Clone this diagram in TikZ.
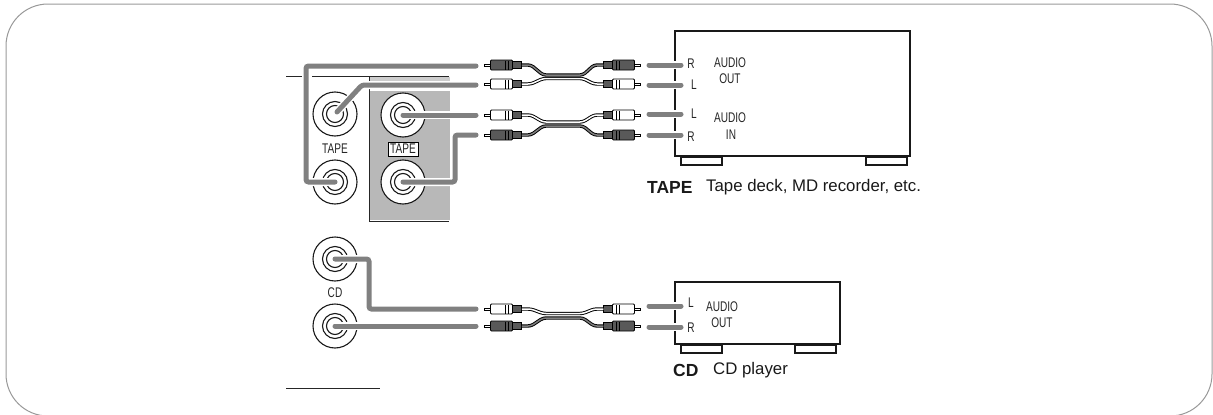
\documentclass[tikz,border=0pt]{standalone}
\usepackage{fontspec}
\setmainfont{Liberation Sans}
\usetikzlibrary{calc}
\definecolor{panelgray}{gray}{.72}
\definecolor{cablegray}{gray}{.5}
\definecolor{plugdark}{gray}{.35}
\tikzset{
  frameline/.style={draw=black!40,line width=1pt,rounded corners=42pt},
  rule/.style={line width=1pt,black!85},
  jackring/.style={circle,draw=black!90,line width=1.1pt,inner sep=0pt},
  cable/.style={cablegray,line width=5pt,line cap=round,rounded corners=2.5pt,
    preaction={draw=white,line width=8pt}},
  box/.style={draw=black!90,line width=1.8pt,fill=white,inner sep=0pt},
  foot/.style={draw=black!90,line width=1.5pt,fill=white,inner sep=0pt,minimum height=8pt,minimum width=41pt},
  lbl/.style={draw=none,inner sep=0pt,font=\fontsize{14}{14}\selectfont,xscale=.72,black!85},
  capt/.style={draw=none,inner sep=0pt,anchor=west,font=\fontsize{16.8}{17}\selectfont,black!90},
  capb/.style={capt,font=\fontsize{17.5}{18}\selectfont\bfseries},
  plugbody/.style={draw=black,line width=.8pt,rounded corners=1pt,minimum width=22pt,minimum height=10pt,inner sep=0pt},
  plugrib/.style={draw=black,fill=black!65,line width=.5pt,minimum width=9pt,minimum height=7pt,inner sep=0pt},
  plugtip/.style={draw=black,fill=white,line width=.5pt,minimum width=6pt,minimum height=2.5pt,inner sep=0pt},
  wirebase/.style={black,line width=3.4pt,rounded corners=3pt},
  wirecore/.style={line width=1.5pt,rounded corners=3pt},
}
% one plug: name, x of body, y, side (1 left, -1 right), fill
\newcommand{\rcaplug}[5]{
  \node[name=#1,plugbody,fill=#5] at (#2,#3) {};
  \node[name=#1r,plugrib] at ({#2+#4*15.5},#3) {};
  \node[name=#1t,plugtip] at ({#2-#4*14},#3) {};
  \draw[black,line width=1.2pt] ({#2+#4*4},#3-4.5) -- ({#2+#4*4},#3+4.5);
  \draw[black,line width=1.2pt] ({#2+#4*7},#3-4.5) -- ({#2+#4*7},#3+4.5);
}
% one lead with its plugs at both ends
\newcommand{\rcalead}[5]{
  \rcaplug{#1a}{501.5}{#2}{1}{#4}
  \rcaplug{#1b}{623.5}{#2}{-1}{#4}
  \draw[wirebase] (#1ar.east) -- (531,#2) -- (543,#3) -- (583,#3) -- (594,#2) -- (#1br.west);
  \draw[wirecore,#5] (#1ar.east) -- (531,#2) -- (543,#3) -- (583,#3) -- (594,#2) -- (#1br.west);
}
\begin{document}
\begin{tikzpicture}[x=1pt,y=-1pt]
\useasboundingbox (0,0) rectangle (1213,415);
\draw[frameline] (6,4) rectangle (1212,416);

% tape panel
\fill[panelgray] (369,91) rectangle (450,220);
\fill[panelgray!70] (369,77) rectangle (450,81);
\draw[rule] (286,76) -- (302,76);
\draw[rule] (312,76) -- (449,76);
\draw[rule] (369,76) -- (369,221) -- (449,221);
\draw[rule] (286,388) -- (380,388);

% jacks
\foreach \name/\x/\y in {TR/335/114,TS/335/182,PR/403/115,PS/403/182,CL/335/259,CR/335/326}{
  \node[name=\name,jackring,fill=white,minimum size=44pt] at (\x,\y) {};
  \node[jackring,minimum size=25pt] at (\x,\y) {};
  \node[jackring,minimum size=17pt] at (\x,\y) {};
}
\node[name=jtape,lbl] at (335,149) {TAPE};
\node[name=ptape,draw=black,line width=.8pt,fill=white,inner sep=0pt,minimum width=30pt,minimum height=14pt] at (403,149) {};
\node[name=ptapet,lbl] at (403,149) {TAPE};
\node[name=jcd,lbl] at (335,293) {CD};

% leads
\rcalead{A}{65}{75}{plugdark}{cablegray}
\rcalead{B}{84}{78.5}{white}{white}
\rcalead{C}{115}{122}{white}{white}
\rcalead{D}{135}{126}{plugdark}{cablegray}
\rcalead{E}{309}{313.5}{white}{white}
\rcalead{F}{326}{318}{plugdark}{cablegray}

% tape deck
\node[name=dfa,foot,anchor=north west] at (680,156) {};
\node[name=dfb,foot,anchor=north west] at (865,156) {};
\node[name=deck,box,minimum width=235pt,minimum height=125pt] at (792.5,93.5) {};
\node[name=dout,lbl] at (730,63) {AUDIO};
\node[name=doutb,lbl] at (730,79) {OUT};
\node[name=din,lbl] at (730,118) {AUDIO};
\node[name=dinb,lbl] at (731,135) {IN};
\node[name=dr,lbl] at (691,64) {R};
\node[name=dl,lbl] at (694,85) {L};
\node[name=dli,lbl] at (694,114) {L};
\node[name=dri,lbl] at (691,137) {R};
\node[name=dtag,capb] at (647,187) {TAPE};
\node[name=dtxt,capt] at (706,187) {Tape deck, MD recorder, etc.};

% cd player
\node[name=cfa,foot,anchor=north west] at (680,344) {};
\node[name=cfb,foot,anchor=north west] at (794,344) {};
\node[name=cdp,box,minimum width=165pt,minimum height=62pt] at (757.5,313) {};
\node[name=cout,lbl] at (722,307) {AUDIO};
\node[name=coutb,lbl] at (722,323) {OUT};
\node[name=cl,lbl] at (691,303) {L};
\node[name=cr,lbl] at (691,328) {R};
\node[name=ctag,capb] at (673,370) {CD};
\node[name=ctxt,capt] at (713,370) {CD player};

% connections at the receiver
\coordinate (A0) at (476,66);
\coordinate (B0) at (476,85);
\coordinate (C0) at (476,115);
\coordinate (D0) at (476,135);
\coordinate (E0) at (476,309);
\coordinate (F0) at (476,326);
\draw[cable] (TS.center) -- (306,182) -- (306,66) -- (A0);
\draw[cable] (TR.center) ++(2,-2) -- (362,85) -- (B0);
\draw[cable] (PR.center) -- (C0);
\draw[cable] (PS.center) -- (455,182) -- (455,135) -- (D0);
\draw[cable] (CL.center) -- (369,259) -- (369,309) -- (E0);
\draw[cable] (CR.center) -- (F0);

% bars at the back of the units
\foreach \name/\y in {Ab/65,Bb/85,Cb/114,Db/135,Eb/306,Fb/327}{
  \coordinate (\name0) at (649,\y);
  \coordinate (\name1) at (681,\y);
  \draw[cable] (\name0) -- (\name1);
}
\end{tikzpicture}
\end{document}
